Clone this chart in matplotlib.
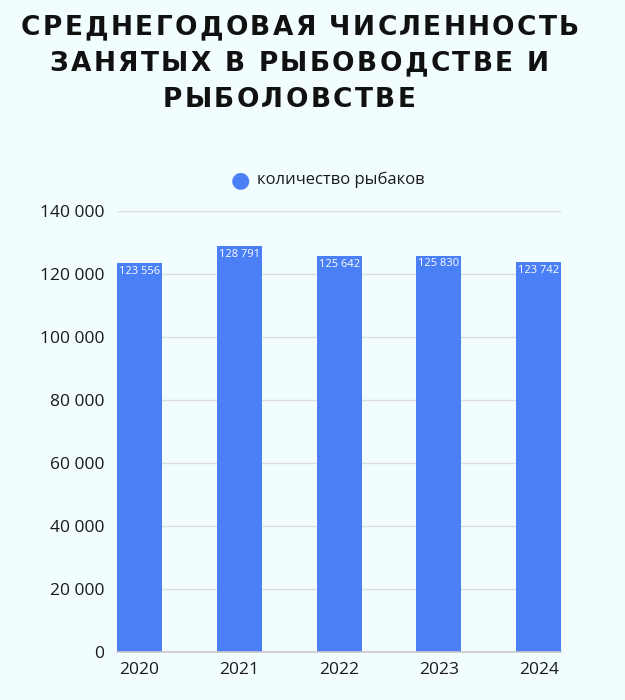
import matplotlib.pyplot as plt
import numpy as np

years = ["2020", "2021", "2022", "2023", "2024"]
fishers = [123556, 128791, 125642, 125830, 123742]
y_ticks = [0, 20000, 40000, 60000, 80000, 100000, 120000, 140000]

title_lines = ["СРЕДНЕГОДОВАЯ ЧИСЛЕННОСТЬ", "ЗАНЯТЫХ В РЫБОВОДСТВЕ И", "РЫБОЛОВСТВЕ"]
legend_label = "количество рыбаков"

bg = "#F2FDFF"
bar_color = "#4A7FF5"

plt.rcParams['font.family'] = ['Open Sans', 'DejaVu Sans']

fig = plt.figure(figsize=(6.25, 7), dpi=100, facecolor=bg)
ax = fig.add_axes([0.187, 0.0686, 0.711, 0.630], facecolor=bg)

x = np.arange(len(years))
width = 0.45
ax.bar(x, fishers, width=width, color=bar_color, zorder=3)

def fmt(v):
    return f"{v:,}".replace(",", " ")

for xi, v in zip(x, fishers):
    ax.annotate(fmt(v), (xi, v), xytext=(0, -2), textcoords="offset points",
                ha="center", va="top", color="white", fontsize=8, zorder=4)

ax.set_xlim(-width / 2, len(years) - 1 + width / 2)
ax.set_ylim(0, 140000)
ax.set_yticks(y_ticks)
ax.set_yticklabels([fmt(t) for t in y_ticks])
ax.set_xticks(x)
ax.set_xticklabels(years)
ax.tick_params(axis="both", length=0, labelsize=12.5, colors="#1a1a1a")
ax.tick_params(axis="y", pad=9)
ax.tick_params(axis="x", pad=7)
ax.grid(axis="y", color="#DDDDDD", linewidth=1, zorder=0)
for s in ["top", "right", "left"]:
    ax.spines[s].set_visible(False)
ax.spines["bottom"].set_color("#C8C8C8")
ax.spines["bottom"].set_linewidth(1.2)
ax.spines["bottom"].set_zorder(5)

# legend
fig.text(240 / 625, 1 - 180 / 700, "\u25CF", color=bar_color, fontsize=16,
         ha="center", va="center", family="DejaVu Sans")
fig.text(257 / 625, 1 - 180 / 700, legend_label, color="#1a1a1a", fontsize=12,
         ha="left", va="center")

# title with wide letter spacing, drawn char by char
renderer = fig.canvas.get_renderer()
title_size = 19
tfont = dict(fontsize=title_size, fontweight="bold", family="DejaVu Sans", color="#111111")

def char_widths(s):
    ws = []
    for ch in s:
        t = fig.text(0, 0, ch if ch != " " else "\u00a0", **tfont)
        ws.append(t.get_window_extent(renderer).width)
        t.remove()
    return ws

# tracking chosen so the first line spans ~558 px
w0 = char_widths(title_lines[0])
tracking = (558 - sum(w0)) / (len(title_lines[0]) - 1)

title_y = [28, 64, 100]
title_cx = [300, 299, 289]
for line, ty, cx in zip(title_lines, title_y, title_cx):
    ws = char_widths(line)
    total = sum(ws) + tracking * (len(line) - 1)
    px = cx - total / 2
    for ch, w in zip(line, ws):
        if ch != " ":
            fig.text(px / 625, 1 - ty / 700, ch, ha="left", va="center", **tfont)
        px += w + tracking

plt.savefig("out.png", dpi=100, facecolor=bg)
